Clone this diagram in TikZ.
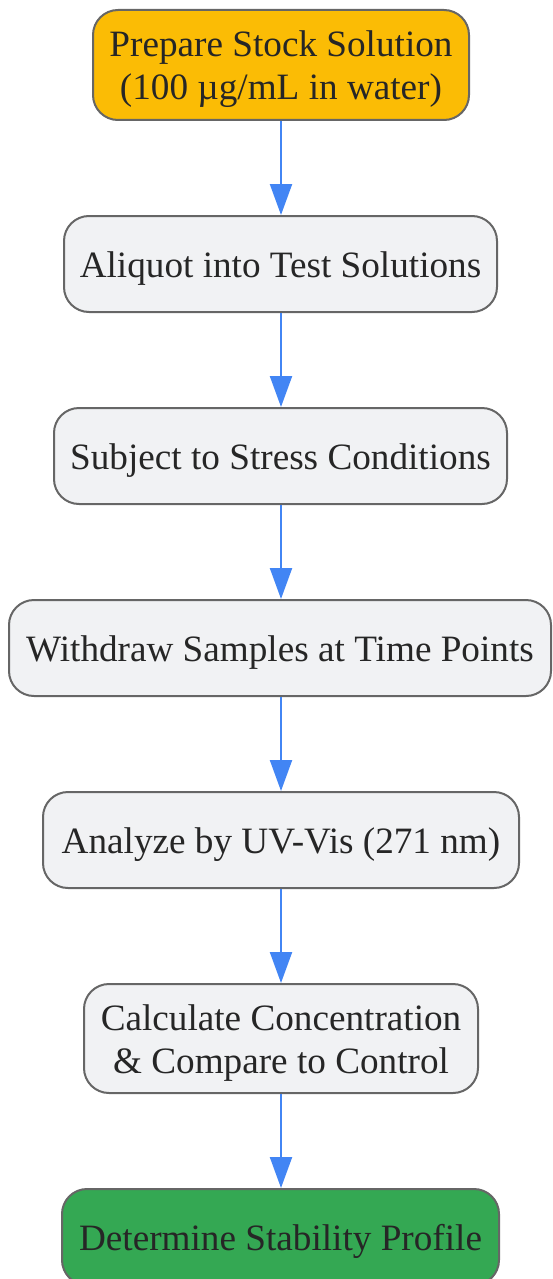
\documentclass[tikz,border=0pt]{standalone}
\usepackage{fontspec}
\setmainfont{Liberation Serif}
\usetikzlibrary{arrows.meta}
\definecolor{boxfill}{HTML}{F1F2F4}
\definecolor{boxdraw}{HTML}{666666}
\definecolor{startfill}{HTML}{FBBC05}
\definecolor{endfill}{HTML}{34A853}
\definecolor{arrowblue}{HTML}{4285F4}
\definecolor{txt}{HTML}{262626}
\begin{document}
\begin{tikzpicture}[x=1pt,y=-1pt,
  stepbox/.style={draw=boxdraw, line width=2pt, fill=boxfill, rounded corners=25pt,
    minimum height=96pt, inner sep=0pt, align=center, text=txt,
    text height=28pt, text depth=0.5pt,
    font=\fontsize{37.2}{43}\selectfont},
  twoline/.style={text height=69.5pt, text depth=0pt},
  flow/.style={draw=arrowblue, line width=2.2pt, -{Triangle[length=31pt,width=22pt]}}]
\useasboundingbox (0,0) rectangle (552,1279);
\node[stepbox, twoline, fill=startfill, minimum width=376pt, minimum height=110pt] (n1) at (281,65) {Prepare Stock Solution\\(100 µg/mL in water)};
\node[stepbox, minimum width=433pt] (n2) at (280.5,264) {Aliquot into Test Solutions};
\node[stepbox, minimum width=453pt] (n3) at (280.5,456) {Subject to Stress Conditions};
\node[stepbox, minimum width=542pt] (n4) at (280,648) {Withdraw Samples at Time Points};
\node[stepbox, minimum width=476pt] (n5) at (281,840) {Analyze by UV-Vis (271 nm)};
\node[stepbox, twoline, minimum width=394pt, minimum height=109pt] (n6) at (281,1038.5) {Calculate Concentration\\\&{} Compare to Control};
\node[stepbox, fill=endfill, minimum width=437pt] (n7) at (280.5,1237) {Determine Stability Profile};
\draw[flow] (n1.south -| 281,0) -- (n2.north -| 281,0);
\draw[flow] (n2.south -| 281,0) -- (n3.north -| 281,0);
\draw[flow] (n3.south -| 281,0) -- (n4.north -| 281,0);
\draw[flow] (n4.south -| 281,0) -- (n5.north -| 281,0);
\draw[flow] (n5.south -| 281,0) -- (n6.north -| 281,0);
\draw[flow] (n6.south -| 281,0) -- (n7.north -| 281,0);
\end{tikzpicture}
\end{document}
